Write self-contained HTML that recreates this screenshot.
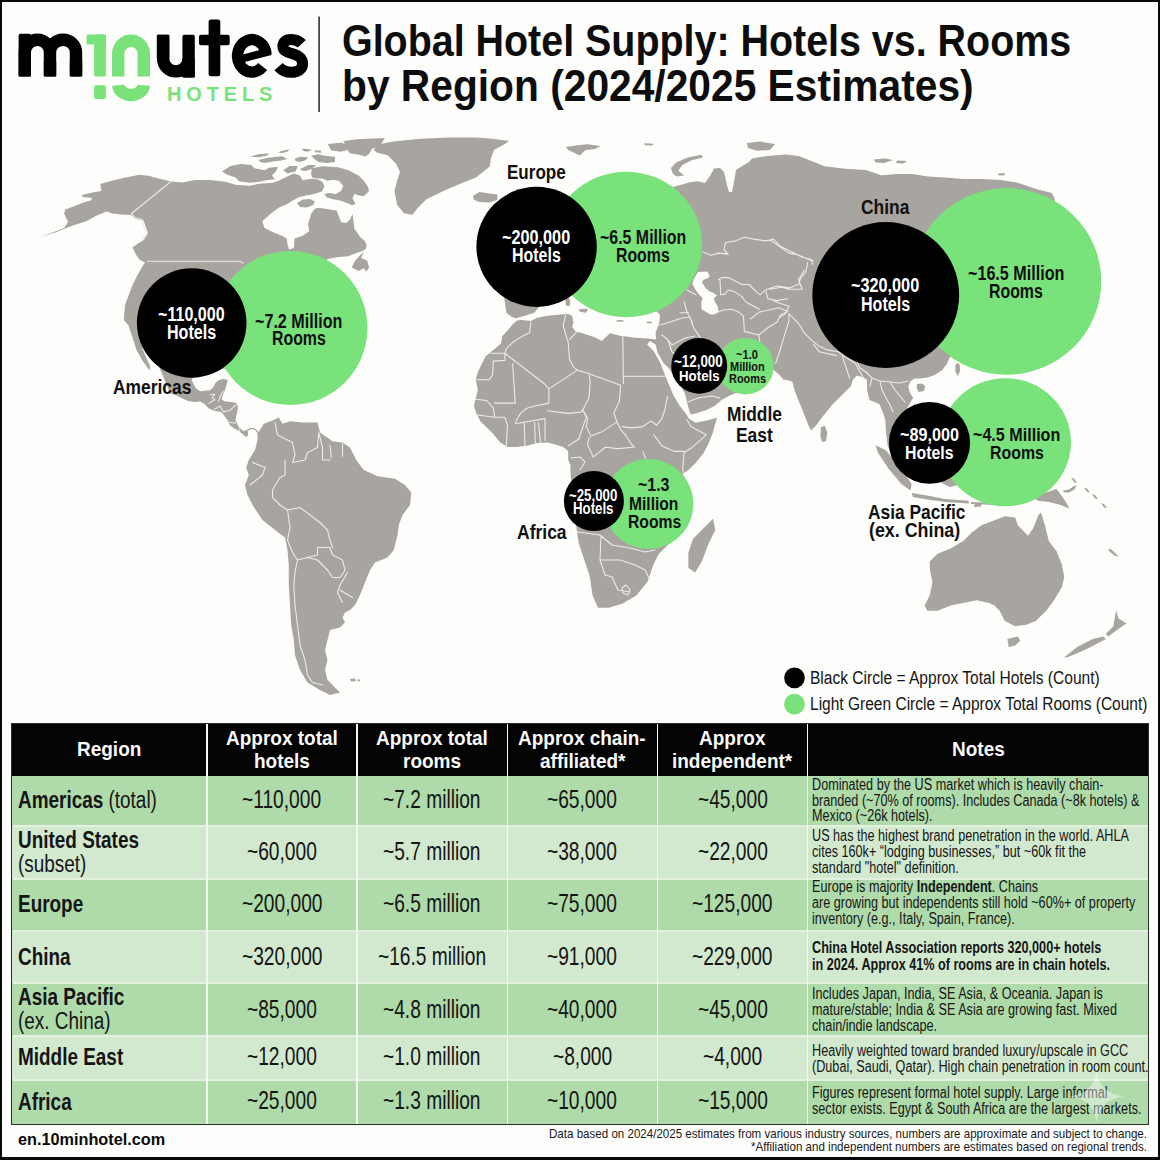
<!DOCTYPE html>
<html><head><meta charset="utf-8"><style>
*{margin:0;padding:0;box-sizing:border-box}
html,body{width:1160px;height:1160px;overflow:hidden;background:#fdfdfb}
body{position:relative;font-family:"Liberation Sans",sans-serif}
.abs{position:absolute;left:0;top:0}
.t{position:absolute;white-space:nowrap;line-height:1;transform-origin:0 0}
.frame{position:absolute;left:0;top:0;width:1160px;height:1160px;border-style:solid;border-color:#0a0a0a;border-width:2px 2.5px 3px 2.5px;pointer-events:none}
</style></head><body>
<svg class="abs" width="1160" height="130" viewBox="0 0 1160 130">
<g fill="none" stroke="#000" stroke-width="12.4">
<path d="M24.8 76.5 V52.5 A12.6 12.8 0 0 1 50 52.5 V76.5 M50 52.5 A13 12.8 0 0 1 76 52.5 V76.5"/>
<path d="M163.1 34.8 V58.5 A12.75 12.9 0 0 0 188.6 58.5 V77.6"/>
<path d="M266.1 54.2 A14.3 16.2 0 1 0 262.6 66.6" stroke-width="11.4"/>
<path d="M301.8 43.8 C298.8 40.6 295.2 39.4 291 39.4 C285.8 39.4 282.9 42.3 282.9 46.2 C282.9 50.6 287 52.1 292 53.6 C298 55.4 302.6 57.6 302.6 63.8 C302.6 69.4 297.5 72.3 291.2 72.3 C285.8 72.3 281.8 70.3 278.6 66.6" stroke-width="11"/>
</g>
<rect x="18.6" y="33.7" width="12.4" height="42.8" rx="2" fill="#000"/>
<rect x="43.8" y="60" width="12.4" height="16.5" rx="2" fill="#000"/>
<rect x="69.8" y="60" width="12.4" height="16.5" rx="2" fill="#000"/>
<rect x="156.9" y="34.8" width="12.4" height="26" rx="2" fill="#000"/>
<rect x="182.4" y="34.8" width="12.4" height="42.8" rx="2" fill="#000"/>
<rect x="208.6" y="19.4" width="11.7" height="56.8" rx="2.5" fill="#000"/>
<rect x="199" y="34.8" width="30.7" height="10.4" rx="2" fill="#000"/>
<path d="M240 59.2 L270.5 51.2" stroke="#000" stroke-width="7.8"/>
<g fill="#7ae27b">
<rect x="94.1" y="34.6" width="11.8" height="41.9" rx="1.5"/>
<rect x="86.6" y="34.6" width="19.3" height="9.9" rx="1.5"/>
<rect x="94.1" y="85.2" width="11.8" height="13.8" rx="2"/>
</g>
<g fill="none" stroke="#7ae27b" stroke-width="12.4">
<path d="M118.25 76.5 V52.7 A12.8 12.8 0 0 1 143.8 52.7 V76.5"/>
<path d="M118.25 85.2 A12.8 10.5 0 0 0 143.8 85.2"/>
</g>
<rect x="318.3" y="16.5" width="1.6" height="95.5" fill="#333"/>
</svg>
<svg class="abs" width="1160" height="1160" viewBox="0 0 1160 1160">
<path d="M39.3 237.4 L50.7 233.3 L64.1 228.1 L68.0 222.0 L64.1 213.6 L65.2 209.5 L73.4 206.4 L81.7 203.3 L91.0 200.2 L92.1 198.1 L82.8 197.1 L81.7 195.0 L95.2 191.9 L101.4 190.9 L100.3 184.1 L112.8 180.5 L123.1 177.9 L133.4 175.9 L139.7 174.8 L150.0 175.9 L152.5 177.0 L170.0 181.2 L182.5 182.5 L195.0 180.0 L210.0 179.9 L215.0 180.6 L225.3 181.7 L235.7 184.8 L249.1 185.8 L259.5 183.7 L272.9 182.7 L279.1 180.6 L287.4 176.5 L293.6 173.4 L299.8 175.4 L302.9 180.6 L306.0 179.5 L313.0 178.8 L318.0 179.5 L322.5 182.0 L324.5 186.5 L322.0 191.5 L314.0 194.0 L305.9 195.5 L298.6 197.2 L293.4 200.3 L286.2 204.5 L279.0 207.6 L270.7 213.8 L262.4 221.0 L264.3 227.8 L273.6 232.4 L281.4 235.5 L286.8 238.6 L287.6 244.8 L289.1 249.5 L293.8 247.9 L294.6 238.6 L303.1 235.5 L309.3 230.9 L307.9 224.1 L310.0 217.9 L311.0 213.8 L314.1 209.7 L316.5 208.0 L322.0 208.2 L330.0 209.5 L336.5 210.5 L338.8 216.0 L341.0 222.0 L346.0 223.0 L350.0 219.5 L352.5 214.0 L353.4 220.0 L354.3 228.6 L360.3 237.2 L364.7 240.7 L366.8 245.0 L365.5 249.3 L362.1 251.0 L355.2 253.6 L348.3 256.2 L338.8 257.1 L332.8 257.9 L326.7 259.2 L330.0 280.0 L320.0 320.0 L300.0 360.0 L280.0 385.0 L240.0 370.0 L215.0 368.0 L192.4 378.3 L191.6 380.0 L193.3 383.4 L195.9 388.6 L200.2 391.2 L204.5 390.8 L209.7 390.3 L213.1 387.8 L215.7 382.6 L219.1 380.0 L223.4 379.1 L227.8 380.0 L226.9 383.4 L225.2 389.5 L222.6 395.5 L221.7 399.8 L225.2 401.6 L232.1 402.0 L236.4 403.3 L238.1 407.6 L236.4 415.3 L235.5 420.5 L239.0 427.4 L243.3 430.9 L246.7 430.0 L250.2 427.8 L254.5 428.3 L258.0 431.0 L259.7 437.8 L257.9 436.0 L257.1 432.6 L255.3 430.0 L251.0 429.1 L247.6 430.9 L248.4 435.2 L245.9 436.9 L240.7 432.6 L235.5 429.1 L230.3 425.7 L227.8 420.5 L223.4 414.5 L220.9 411.9 L214.8 411.0 L208.8 408.4 L204.5 404.1 L200.2 401.6 L194.1 402.0 L187.2 400.7 L178.6 396.4 L170.0 392.9 L161.2 371.7 L158.0 365.0 L152.0 352.0 L146.0 345.0 L142.0 348.0 L146.0 357.0 L150.0 366.0 L149.8 370.8 L142.0 360.0 L136.5 350.0 L133.6 340.9 L128.4 325.3 L123.8 320.0 L125.0 305.0 L128.8 295.0 L132.5 285.0 L137.5 275.0 L142.5 266.2 L145.0 262.5 L140.0 260.0 L136.2 255.0 L132.5 247.5 L137.5 243.8 L143.8 240.0 L147.9 233.3 L145.9 227.1 L143.8 220.9 L135.5 218.8 L130.3 214.7 L123.1 214.7 L112.8 213.6 L106.5 211.6 L96.2 215.7 L86.9 220.9 L71.4 226.0 L55.9 232.2 Z M257.5 433.8 L263.8 423.8 L273.8 420.0 L278.8 417.5 L282.5 423.8 L290.0 421.2 L302.5 422.5 L317.5 422.5 L320.0 432.5 L332.5 441.2 L342.5 442.5 L350.0 447.5 L356.2 460.0 L363.8 470.0 L377.5 476.2 L395.0 478.8 L405.0 485.0 L411.2 492.5 L410.0 505.0 L402.5 515.0 L398.8 525.0 L397.5 535.0 L393.8 550.0 L387.5 557.5 L375.0 562.5 L370.0 570.0 L365.0 582.5 L360.0 595.0 L355.0 605.0 L350.0 610.0 L345.0 612.5 L342.5 617.5 L345.0 622.5 L340.0 627.5 L330.0 630.0 L327.5 640.0 L325.0 650.0 L327.5 660.0 L325.0 670.0 L327.5 680.0 L335.0 687.5 L340.0 692.5 L330.0 695.0 L320.0 690.0 L307.5 682.5 L300.0 670.0 L295.0 655.0 L293.8 640.0 L291.2 625.0 L290.0 605.0 L288.8 585.0 L288.8 565.0 L287.5 550.0 L285.0 537.5 L275.0 530.0 L262.5 520.0 L252.5 505.0 L247.5 495.0 L245.0 485.0 L248.8 475.0 L246.2 467.5 L248.8 460.0 L255.0 450.0 L257.5 440.0 Z M373.8 149.8 L379.3 144.3 L393.1 141.6 L420.7 138.8 L448.3 137.4 L475.9 137.4 L492.4 138.8 L509.0 141.0 L505.0 144.0 L494.0 150.0 L491.0 158.0 L489.7 166.4 L483.0 172.0 L475.9 177.4 L462.0 183.0 L442.8 191.2 L426.2 199.5 L417.9 207.8 L412.4 214.7 L404.1 213.3 L397.2 205.0 L394.5 191.2 L397.2 180.2 L400.0 171.9 L395.9 163.6 L387.6 155.3 L376.6 152.6 Z M472.8 196.0 L479.3 192.0 L489.6 193.4 L497.4 194.6 L497.4 199.8 L489.6 202.4 L479.3 201.9 L474.1 199.8 Z M517.5 320.2 L512.7 324.2 L507.5 330.7 L502.3 335.9 L501.0 343.6 L493.3 350.1 L485.5 356.5 L481.6 364.3 L477.8 372.0 L475.8 379.8 L477.8 390.1 L475.2 400.5 L473.9 405.7 L476.5 413.4 L480.3 421.2 L486.8 427.6 L493.3 434.1 L499.7 441.9 L507.5 447.0 L516.5 447.0 L526.9 445.7 L537.2 443.1 L547.6 442.5 L555.3 444.4 L563.1 447.0 L568.2 450.9 L568.2 460.0 L570.4 465.0 L570.4 471.1 L572.0 490.0 L575.0 515.0 L577.0 532.0 L578.7 542.9 L584.2 559.5 L589.7 576.0 L592.5 595.3 L598.0 607.8 L609.0 607.8 L622.8 603.6 L636.6 595.3 L647.7 581.5 L653.2 565.0 L658.7 553.9 L669.8 542.9 L685.0 520.0 L690.0 495.0 L683.1 473.4 L688.3 470.3 L695.5 463.1 L703.8 452.8 L709.0 442.4 L713.1 432.1 L715.2 423.8 L717.2 417.6 L714.1 418.6 L705.9 420.7 L695.5 422.8 L688.8 418.6 L685.9 413.8 L679.3 405.3 L673.6 395.8 L668.9 384.5 L664.1 373.1 L660.3 362.7 L653.7 351.3 L647.1 344.6 L650.0 341.0 L655.6 344.6 L657.5 352.2 L663.2 362.7 L669.8 369.3 L674.5 378.8 L681.2 386.4 L685.0 393.9 L686.9 401.5 L688.8 409.1 L690.7 414.5 L695.5 413.4 L705.9 410.3 L714.1 406.2 L719.3 402.1 L721.4 400.0 L728.6 395.9 L733.8 393.8 L737.9 392.8 L750.0 392.0 L765.0 385.0 L771.0 378.0 L773.0 369.5 L778.8 374.3 L783.3 379.5 L788.6 380.5 L792.4 381.7 L794.7 391.0 L799.4 402.7 L804.1 414.3 L808.7 426.0 L811.0 430.6 L815.7 426.0 L822.7 416.6 L832.0 405.0 L841.3 395.7 L850.6 386.4 L853.0 379.4 L857.0 375.5 L862.0 377.0 L866.9 379.4 L867.2 390.7 L869.7 400.3 L873.3 401.5 L879.3 404.0 L883.0 412.4 L885.3 419.7 L886.0 433.0 L887.9 446.9 L893.0 455.0 L905.0 470.0 L910.0 450.0 L905.0 430.0 L900.0 420.0 L913.1 397.9 L909.5 391.9 L908.3 385.9 L910.7 381.0 L914.3 378.6 L920.3 378.6 L927.6 377.4 L934.8 375.0 L942.1 370.2 L946.9 364.1 L949.3 358.1 L960.0 350.0 L1000.0 340.0 L1040.0 300.0 L1060.0 230.0 L1054.1 197.5 L1051.8 192.9 L1037.8 189.4 L1016.8 182.4 L1000.5 180.0 L981.9 178.9 L963.3 178.9 L948.6 177.8 L927.9 176.5 L912.4 174.0 L896.9 174.0 L881.4 175.3 L865.8 170.1 L845.2 168.8 L824.5 166.2 L811.5 161.0 L798.6 155.9 L785.7 154.6 L767.6 155.9 L760.0 157.0 L752.1 158.4 L748.6 162.2 L741.7 166.2 L736.0 170.0 L734.0 182.0 L732.0 192.0 L729.0 192.0 L727.0 185.0 L724.0 172.0 L720.0 168.0 L714.0 168.5 L710.0 176.0 L705.0 183.0 L697.4 181.2 L689.8 182.2 L680.3 185.0 L672.8 186.9 L660.0 182.0 L620.0 180.0 L600.0 192.0 L590.0 205.0 L575.0 210.0 L560.0 200.0 L540.0 190.0 L510.0 200.0 L490.0 230.0 L485.0 260.0 L495.0 285.0 L504.0 296.0 L504.7 301.3 L506.4 312.8 L511.0 316.5 L515.8 318.2 Z M250.2 156.8 L258.4 154.2 L269.3 153.2 L266.7 155.8 L258.4 157.3 Z M278.1 152.2 L283.3 150.6 L289.5 149.6 L287.4 151.7 L281.2 153.2 Z M258.4 159.9 L266.7 157.9 L277.1 156.8 L282.2 156.3 L287.4 158.9 L281.2 160.4 L272.9 161.5 L264.7 163.0 L260.5 162.0 Z M301.9 148.6 L308.1 149.1 L312.2 150.6 L306.0 151.7 L302.9 150.6 Z M314.3 150.6 L320.5 150.6 L321.5 152.7 L315.3 152.2 Z M294.7 158.9 L299.8 156.8 L308.1 157.3 L306.0 159.9 L299.8 162.0 L295.7 161.0 Z M311.2 155.8 L318.4 154.2 L324.7 155.8 L335.0 156.8 L335.0 162.0 L326.7 163.0 L318.4 162.0 L314.3 158.9 Z M222.2 171.3 L230.5 166.1 L240.9 164.1 L251.2 165.1 L254.3 168.2 L264.7 170.3 L268.8 167.7 L278.1 166.7 L276.0 171.3 L271.9 175.4 L275.0 179.2 L266.7 180.2 L259.5 181.8 L249.1 182.8 L238.8 181.2 L235.7 177.5 L226.4 174.4 Z M283.3 170.3 L289.5 166.1 L297.8 166.1 L295.7 171.3 L287.4 173.4 Z M299.8 169.2 L308.1 165.1 L316.4 165.1 L311.2 169.2 L304.0 171.3 Z M327.9 144.0 L341.9 142.4 L346.6 145.5 L346.6 150.2 L340.4 151.7 L331.0 150.2 Z M343.5 140.9 L357.4 139.3 L372.9 138.5 L385.0 138.0 L380.0 145.5 L372.0 149.0 L369.0 154.0 L365.2 156.4 L359.0 154.8 L349.7 153.3 L346.6 148.6 Z M311.0 173.4 L312.0 168.3 L322.4 166.2 L338.0 167.2 L348.3 170.3 L358.6 175.5 L363.8 180.7 L368.0 186.9 L369.0 191.0 L363.8 196.2 L358.6 195.2 L354.5 194.1 L352.4 198.3 L355.5 203.4 L352.4 205.5 L348.3 203.4 L343.1 201.4 L339.0 200.3 L332.8 199.3 L326.5 197.2 L324.5 194.1 L328.6 193.1 L335.9 194.1 L341.0 191.0 L343.1 185.9 L339.0 180.7 L332.8 179.7 L327.6 180.7 L322.4 178.6 L317.2 178.6 L312.1 177.6 Z M297.0 203.0 L303.0 199.5 L310.0 199.0 L315.0 201.5 L313.0 205.0 L307.0 207.6 L300.0 207.0 Z M363.8 251.5 L361.2 257.9 L367.2 260.5 L369.0 267.4 L366.4 271.7 L363.8 268.3 L358.6 270.9 L351.7 267.4 L355.2 260.5 Z M565.6 147.1 L577.9 145.2 L587.4 144.2 L600.7 146.1 L595.0 149.0 L585.5 149.9 L579.8 155.6 L574.1 152.8 L568.4 149.9 Z M644.3 143.3 L653.8 143.8 L652.0 145.5 L645.0 145.2 Z M672.8 173.6 L670.9 167.9 L676.5 162.2 L687.9 157.5 L701.2 154.7 L703.1 157.5 L691.7 160.3 L682.2 165.1 L678.4 170.8 L684.1 175.5 L676.5 176.5 Z M747.0 143.0 L760.0 141.6 L775.0 144.0 L770.0 150.0 L757.0 150.7 L748.0 148.0 Z M873.6 159.5 L885.0 158.4 L893.0 160.0 L884.0 163.0 L876.0 162.5 Z M897.0 160.5 L907.0 161.0 L903.0 163.6 L896.0 163.0 Z M998.0 173.5 L1005.0 173.0 L1004.0 175.4 L998.5 175.3 Z M350.0 679.0 L355.0 678.5 L356.0 681.0 L351.0 681.5 Z M357.0 679.5 L360.0 679.5 L360.0 681.2 L357.5 681.2 Z M713.0 518.8 L715.3 530.0 L708.6 543.4 L701.8 561.4 L695.1 572.6 L688.4 568.0 L688.4 552.4 L692.9 539.0 L701.8 530.0 L708.6 523.3 Z M821.0 427.0 L825.0 426.0 L827.3 433.0 L826.0 441.0 L822.0 442.0 L820.4 436.0 Z M917.0 384.0 L922.0 383.4 L925.2 386.0 L924.0 391.0 L918.5 391.9 L916.7 388.0 Z M956.5 363.0 L959.5 364.0 L960.2 370.0 L958.0 376.2 L955.5 372.0 L955.3 366.0 Z M875.5 445.2 L885.9 450.3 L898.8 465.9 L911.7 484.0 L910.4 490.4 L901.4 484.0 L888.4 468.4 L878.1 452.9 Z M911.7 493.0 L927.2 495.6 L945.3 499.0 L968.6 500.8 L968.6 503.4 L945.3 502.1 L927.2 499.5 L913.0 496.9 Z M971.0 502.0 L985.0 502.5 L998.0 503.5 L997.0 505.0 L984.0 504.5 L971.0 504.0 Z M935.0 470.0 L950.0 460.0 L965.0 470.0 L962.0 484.0 L950.0 487.0 L940.0 482.0 Z M1030.0 490.0 L1041.0 494.3 L1056.5 489.1 L1064.3 499.5 L1069.5 508.5 L1059.1 504.6 L1048.8 502.1 L1038.4 500.8 L1032.0 497.0 Z M1063.0 490.5 L1069.0 489.5 L1074.0 486.0 L1076.6 485.5 L1074.5 489.5 L1069.0 492.4 L1064.0 492.2 Z M1071.0 477.5 L1074.0 478.5 L1077.0 483.0 L1074.5 482.5 Z M1084.0 487.5 L1087.0 488.5 L1090.0 492.5 L1087.0 492.0 Z M1092.0 494.0 L1095.0 495.0 L1098.0 499.0 L1095.0 498.5 Z M1101.0 503.0 L1104.0 504.0 L1107.0 508.0 L1104.0 507.5 Z M975.0 503.0 L982.0 502.8 L981.0 506.5 L974.0 507.0 Z M929.8 561.5 L937.6 553.8 L950.5 548.6 L963.4 540.9 L971.2 533.1 L981.5 525.3 L994.5 520.2 L1004.8 516.3 L1015.2 517.6 L1017.7 525.3 L1028.1 535.7 L1033.3 527.9 L1038.4 515.0 L1041.0 512.4 L1044.9 525.3 L1048.8 540.9 L1056.5 551.2 L1061.7 564.1 L1064.3 577.1 L1061.7 587.4 L1054.0 600.3 L1046.2 610.7 L1035.8 621.0 L1025.5 624.9 L1015.2 626.2 L1004.8 621.0 L999.6 610.7 L994.5 605.5 L989.3 602.9 L976.4 600.3 L963.4 602.9 L950.5 605.5 L937.6 610.7 L927.2 610.7 L924.6 605.5 L929.8 595.2 L932.4 582.2 L929.8 569.3 Z M1007.4 639.1 L1017.7 636.5 L1020.3 640.4 L1015.2 645.6 L1008.7 646.9 Z M1116.0 610.7 L1118.6 618.4 L1126.4 623.6 L1118.6 628.8 L1108.3 636.5 L1105.7 634.0 L1113.4 626.2 L1114.7 618.4 Z M1103.1 636.5 L1106.0 639.0 L1092.7 646.0 L1082.4 651.0 L1066.9 657.5 L1064.3 657.2 L1077.2 646.9 L1092.7 639.1 Z M1108.0 548.6 L1112.0 550.0 L1118.6 556.4 L1115.0 556.0 L1109.0 551.0 Z" fill="#a8a49f"/>
<path d="M515.8 318.2 L524.0 316.0 L534.2 312.8 L540.0 306.0 L548.0 298.0 L560.0 292.0 L578.0 283.0 L600.0 285.0 L625.0 300.0 L645.0 308.0 L656.0 311.0 L660.0 314.8 L659.4 321.9 L658.4 325.7 L655.6 332.3 L656.2 339.5 L646.7 338.5 L633.4 337.6 L620.2 335.7 L610.0 333.3 L607.0 335.9 L601.9 341.0 L594.1 337.1 L586.3 334.6 L579.9 332.6 L576.0 332.0 L572.1 326.8 L573.4 322.9 L572.1 315.8 L568.2 313.9 L560.5 314.5 L547.6 315.8 L537.2 317.8 L530.8 321.0 L522.0 320.0 L517.5 320.2 Z M697.9 272.1 L707.6 271.4 L709.7 276.2 L707.6 278.3 L703.4 279.7 L702.1 282.4 L705.5 287.9 L709.7 291.4 L713.1 292.8 L717.2 295.5 L713.8 298.3 L715.2 302.4 L717.9 306.6 L718.6 312.1 L714.5 314.5 L710.3 314.5 L706.2 312.1 L701.4 309.3 L701.4 301.7 L702.8 298.3 L698.6 294.1 L695.2 289.3 L692.4 283.8 L693.8 279.0 Z" fill="#fdfdfb"/>
<path d="M565.3 298.5 L568.5 297.8 L570.3 301.0 L569.5 306.2 L566.0 305.5 Z M578.5 309.5 L584.0 308.7 L588.3 309.0 L586.0 312.8 L580.0 311.8 Z M616.0 320.4 L620.0 320.0 L624.3 320.6 L623.0 321.8 L617.0 321.8 Z M646.4 322.0 L650.0 321.5 L652.2 322.0 L651.0 323.4 L647.0 323.2 Z" fill="#a8a49f"/>
<path d="M147.5 261.3 L240.0 261.3 L243.0 263.0 M171.3 181.3 L131.3 213.8 L135.0 217.5 L142.5 220.0 L145.0 230.0 L147.5 232.5 L142.5 240.0 M210.5 394.7 L214.8 394.2 L212.2 398.1 L214.8 399.8 L208.8 403.3 M218.3 401.6 L220.9 394.7 L223.4 391.2 M214.8 409.3 L220.0 405.9 L223.4 411.9 M223.4 411.9 L230.3 410.2 L235.5 405.0 M229.5 422.2 L235.5 423.1 M239.0 429.1 L239.8 431.7 M530.8 322.3 L529.5 332.6 L523.0 335.9 L512.7 342.3 L506.2 348.8 L504.9 352.7 M490.7 353.3 L504.9 353.3 L504.9 360.4 L493.3 361.1 L492.6 374.6 L489.4 379.8 L475.2 379.8 M504.9 353.3 L545.0 384.3 L548.9 388.9 M512.7 363.6 L515.2 403.1 L494.6 403.1 M565.7 315.2 L563.1 325.5 L568.2 342.3 L569.5 359.1 L573.4 366.9 L577.3 370.1 M576.0 332.6 L569.5 339.7 M577.3 370.1 L548.9 388.9 M577.3 370.1 L587.6 373.3 L620.7 385.2 M588.9 373.3 L590.2 382.4 L589.0 397.6 L582.8 410.0 L587.6 418.3 L586.2 426.6 L590.3 434.8 M548.9 388.9 L548.9 403.1 L535.9 405.7 L526.9 408.2 L520.4 413.4 L515.2 422.5 M547.6 410.8 L557.9 412.1 L568.2 413.4 L581.2 412.1 L582.5 409.5 M582.5 409.5 L586.3 417.3 L578.6 439.3 L568.2 445.7 M475.2 399.2 L486.8 400.5 L493.3 408.2 L494.6 417.3 L475.2 414.7 M494.6 417.3 L504.9 417.3 L507.5 425.0 L506.2 447.0 M524.3 422.5 L524.9 445.7 M534.6 422.5 L535.3 443.1 M538.5 422.5 L540.5 443.1 M545.0 418.6 L545.0 440.6 M515.2 423.8 L545.0 418.6 M622.8 336.2 L623.4 383.8 M623.4 376.2 L664.8 376.2 M620.7 385.2 L619.3 401.7 L613.8 412.8 L616.6 421.0 L620.7 429.3 L626.2 436.2 L631.7 444.5 L634.5 447.2 M590.3 436.2 L601.4 432.1 L609.7 426.6 L616.6 422.4 M589.0 437.6 L587.6 444.5 L593.1 456.9 L605.5 447.2 L617.9 448.6 L633.1 447.2 M622.1 426.6 L631.7 427.9 L642.8 426.6 L651.0 421.0 L656.6 425.2 M667.6 396.2 L664.8 410.0 L662.0 418.3 L656.6 425.2 M686.9 419.7 L691.0 426.6 L706.2 434.8 L692.4 447.2 L684.1 452.8 M653.8 434.8 L662.0 445.9 L674.5 451.4 L684.1 451.4 M684.1 452.8 L682.8 467.9 L684.1 480.0 M642.8 451.4 L645.5 458.3 M571.0 458.0 L580.0 457.0 L585.0 462.0 L580.0 470.0 M577.0 532.0 L600.0 535.0 L612.0 545.0 M601.0 536.0 L600.0 560.0 L605.0 575.0 L612.0 577.0 M612.0 545.0 L630.0 548.0 L645.0 552.0 L655.0 550.0 M600.0 560.0 L620.0 560.0 L635.0 565.0 L645.0 570.0 L650.0 580.0 M612.0 577.0 L618.0 590.0 L630.0 592.0 M626.0 585.0 L630.0 590.0 L628.0 595.0 L623.0 593.0 L622.0 588.0 L626.0 585.0 M275.0 422.5 L277.5 435.0 L292.5 442.5 L295.0 455.0 L292.5 462.5 L305.0 460.0 L307.5 452.5 L317.5 447.5 L318.8 432.5 M318.8 432.5 L322.5 447.5 L322.5 460.0 L330.0 460.0 M330.0 445.0 L331.3 457.5 M342.5 443.8 L342.5 456.3 M252.5 462.5 L265.0 467.5 L262.5 475.0 L250.0 485.0 M285.0 460.0 L285.0 475.0 L280.0 477.5 L272.5 490.0 L272.5 497.5 L280.0 505.0 L287.5 510.0 M287.5 510.0 L300.0 507.5 L320.0 522.5 L327.5 530.0 L330.0 540.0 L332.5 547.5 M287.5 510.0 L290.0 527.5 L287.5 540.0 L292.5 552.5 L297.5 560.0 M297.5 560.0 L307.5 557.5 L317.5 555.0 L317.5 547.5 L330.0 547.5 L332.5 555.0 L342.5 560.0 L345.0 570.0 L340.0 577.5 L332.5 577.5 L327.5 570.0 L317.5 560.0 L307.5 557.5 M297.5 560.0 L295.0 572.5 L293.8 585.0 L295.0 605.0 L297.5 625.0 L300.0 645.0 L305.0 660.0 L307.5 675.0 L312.5 682.5 L322.5 685.0 M347.5 572.5 L340.0 585.0 L337.5 592.5 L342.5 602.5 M340.0 590.0 L352.5 597.5 M702.8 252.1 L711.0 255.2 L718.6 253.1 L728.3 254.1 L724.1 250.0 L725.3 242.7 L735.3 240.9 L744.3 237.2 L753.4 239.1 L766.0 240.9 L773.3 239.1 L780.5 246.3 L791.4 251.7 L802.2 257.2 L809.5 259.0 L813.1 260.8 M718.6 279.7 L721.4 277.6 L728.3 277.6 L735.2 281.0 L742.1 284.5 L749.0 284.5 L755.9 291.4 L760.0 294.8 L766.0 289.7 L776.9 286.1 L789.6 287.9 L798.6 284.3 L800.4 278.9 L805.9 271.6 L807.7 262.6 M720.0 279.7 L720.7 294.8 L724.8 294.1 L728.3 290.0 L733.8 291.4 L742.1 296.9 L745.5 301.7 L759.3 309.3 M718.6 312.1 L722.8 310.0 L731.7 309.3 L738.6 312.1 L743.4 316.2 L744.1 325.9 M750.3 319.0 L759.3 312.1 L769.7 309.7 L778.7 307.8 L787.8 311.5 L780.5 315.1 L776.9 322.3 L767.8 327.8 L758.8 335.0 L744.3 331.4 L744.1 325.9 M686.9 290.0 L695.9 294.8 M684.1 301.7 L686.9 312.1 L692.4 322.4 M680.0 312.8 L688.3 312.8 M789.0 313.9 L789.0 321.4 L785.2 332.8 L779.5 351.8 L775.7 363.2 M789.0 313.9 L798.5 323.3 L804.2 332.8 L811.7 340.4 L819.3 346.1 L826.9 349.9 L838.3 351.8 L845.9 357.5 L855.4 363.2 M770.0 239.8 L789.0 253.1 L798.5 255.0 L811.7 260.7 L812.7 264.5 M804.2 270.2 L798.5 279.7 L802.3 289.2 L789.0 289.2 L781.4 287.3 L770.0 289.2 M770.0 298.7 L777.6 302.5 L789.0 306.3 L785.2 313.9 L779.5 317.6 M813.6 344.2 L819.3 351.8 L836.4 355.6 M842.1 355.6 L845.9 367.0 L849.7 378.4 M855.4 363.2 L859.2 370.8 L864.9 380.3 M690.0 316.9 L693.6 327.8 L700.9 338.6 M758.8 335.0 L760.6 347.7 L766.0 356.7 L762.4 367.6 M766.0 291.5 L767.8 298.8 L776.9 300.6 L787.8 298.8 M662.0 335.0 L668.0 340.0 L672.0 345.0 M672.0 345.0 L685.0 338.0 L695.0 336.0 M660.0 325.0 L670.0 322.0 L682.0 318.0 L690.0 317.0 M668.0 340.0 L672.0 352.0 L680.0 358.0 L690.0 358.0 L700.0 355.0 M688.0 402.0 L698.0 398.0 L712.0 396.0 L720.0 398.0 M856.5 360.3 L860.0 368.0 L866.0 372.0 L872.0 378.0 L870.0 386.0 M872.0 378.0 L880.0 381.0 L890.0 382.0 L900.0 383.0 L908.0 381.0 M880.0 381.0 L882.0 390.0 L886.0 398.0 L890.0 405.0 L893.0 412.0 M890.0 382.0 L895.0 390.0 L900.0 396.0 L905.0 402.0" fill="none" stroke="#ecebe6" stroke-width="1.1" stroke-linejoin="round" stroke-linecap="round"/>
<ellipse cx="290.5" cy="328" rx="77" ry="77" fill="#7ae27b"/><ellipse cx="626.2" cy="244.5" rx="75.9" ry="72.75" fill="#7ae27b"/><ellipse cx="1006.5" cy="281.4" rx="94.8" ry="93.3" fill="#7ae27b"/><ellipse cx="745.4" cy="366.2" rx="28.3" ry="28.3" fill="#7ae27b"/><ellipse cx="1005.4" cy="442.25" rx="65.6" ry="64" fill="#7ae27b"/><ellipse cx="648.4" cy="504" rx="45" ry="45" fill="#7ae27b"/><ellipse cx="191.7" cy="323" rx="54.8" ry="54.7" fill="#000"/><ellipse cx="536.6" cy="246.8" rx="60.2" ry="60.1" fill="#000"/><ellipse cx="885.75" cy="295" rx="73.4" ry="72.9" fill="#000"/><ellipse cx="699.2" cy="365.9" rx="28" ry="27.8" fill="#000"/><ellipse cx="929.5" cy="442.9" rx="40.6" ry="40.9" fill="#000"/><ellipse cx="593.9" cy="501" rx="30" ry="30" fill="#000"/>
<circle cx="794.5" cy="677.9" r="10.3" fill="#000"/><circle cx="794.5" cy="704.2" r="10.4" fill="#7ae27b"/>
</svg>
<div style="position:absolute;left:12px;top:723px;width:1136.5px;height:53px;background:#040404"></div><div style="position:absolute;left:12px;top:776px;width:1136.5px;height:50px;background:#afdaa9"></div><div style="position:absolute;left:12px;top:826px;width:1136.5px;height:53px;background:#d2e9cf"></div><div style="position:absolute;left:12px;top:879px;width:1136.5px;height:52px;background:#afdaa9"></div><div style="position:absolute;left:12px;top:931px;width:1136.5px;height:52px;background:#d2e9cf"></div><div style="position:absolute;left:12px;top:983px;width:1136.5px;height:53px;background:#afdaa9"></div><div style="position:absolute;left:12px;top:1036px;width:1136.5px;height:44px;background:#d2e9cf"></div><div style="position:absolute;left:12px;top:1080px;width:1136.5px;height:43.799999999999955px;background:#afdaa9"></div><div style="position:absolute;left:13px;top:825.2px;width:1134.5px;height:1.4px;background:#e4f1e1"></div><div style="position:absolute;left:13px;top:878.2px;width:1134.5px;height:1.4px;background:#e4f1e1"></div><div style="position:absolute;left:13px;top:930.2px;width:1134.5px;height:1.4px;background:#e4f1e1"></div><div style="position:absolute;left:13px;top:982.2px;width:1134.5px;height:1.4px;background:#e4f1e1"></div><div style="position:absolute;left:13px;top:1035.2px;width:1134.5px;height:1.4px;background:#e4f1e1"></div><div style="position:absolute;left:13px;top:1079.2px;width:1134.5px;height:1.4px;background:#e4f1e1"></div><div style="position:absolute;left:206.2px;top:723px;width:1.6px;height:400.79999999999995px;background:#f4f8f2"></div><div style="position:absolute;left:356.2px;top:723px;width:1.6px;height:400.79999999999995px;background:#f4f8f2"></div><div style="position:absolute;left:506.7px;top:723px;width:1.6px;height:400.79999999999995px;background:#f4f8f2"></div><div style="position:absolute;left:656.7px;top:723px;width:1.6px;height:400.79999999999995px;background:#f4f8f2"></div><div style="position:absolute;left:806.7px;top:723px;width:1.6px;height:400.79999999999995px;background:#f4f8f2"></div><div style="position:absolute;left:11.3px;top:722.5px;width:1138.0px;height:402.0999999999999px;border:1.5px solid #2a2a2a"></div>
<div class="t" style="left:342.40px;top:19.33px;font-size:44.5px;font-weight:bold;color:#0d0d0d;letter-spacing:0px;transform:scaleX(0.8856)">Global Hotel Supply: Hotels vs. Rooms</div>
<div class="t" style="left:342.40px;top:64.13px;font-size:44.5px;font-weight:bold;color:#0d0d0d;letter-spacing:0px;transform:scaleX(0.9153)">by Region (2024/2025 Estimates)</div>
<div class="t" style="left:166.60px;top:84.07px;font-size:20px;font-weight:bold;color:#7ae27b;letter-spacing:4.8px;transform:scaleX(1.0025)">HOTELS</div>
<div class="t" style="left:112.60px;top:375.92px;font-size:21px;font-weight:bold;color:#111;letter-spacing:0px;transform:scaleX(0.8280)">Americas</div>
<div class="t" style="left:507.20px;top:161.02px;font-size:21px;font-weight:bold;color:#111;letter-spacing:0px;transform:scaleX(0.8114)">Europe</div>
<div class="t" style="left:861.10px;top:196.02px;font-size:21px;font-weight:bold;color:#111;letter-spacing:0px;transform:scaleX(0.8296)">China</div>
<div class="t" style="left:727.00px;top:403.22px;font-size:21px;font-weight:bold;color:#111;letter-spacing:0px;transform:scaleX(0.8256)">Middle</div>
<div class="t" style="left:736.00px;top:423.82px;font-size:21px;font-weight:bold;color:#111;letter-spacing:0px;transform:scaleX(0.8296)">East</div>
<div class="t" style="left:867.70px;top:501.42px;font-size:21px;font-weight:bold;color:#111;letter-spacing:0px;transform:scaleX(0.8261)">Asia Pacific</div>
<div class="t" style="left:868.70px;top:519.22px;font-size:21px;font-weight:bold;color:#111;letter-spacing:0px;transform:scaleX(0.8495)">(ex. China)</div>
<div class="t" style="left:517.40px;top:521.02px;font-size:21px;font-weight:bold;color:#111;letter-spacing:0px;transform:scaleX(0.8332)">Africa</div>
<div class="t" style="left:158.00px;top:304.69px;font-size:19.5px;font-weight:bold;color:#fff;letter-spacing:0px;transform:scaleX(0.8254)">~110,000</div>
<div class="t" style="left:166.60px;top:322.79px;font-size:19.5px;font-weight:bold;color:#fff;letter-spacing:0px;transform:scaleX(0.8254)">Hotels</div>
<div class="t" style="left:255.40px;top:311.59px;font-size:19.5px;font-weight:bold;color:#111;letter-spacing:0px;transform:scaleX(0.8272)">~7.2 Million</div>
<div class="t" style="left:271.80px;top:328.79px;font-size:19.5px;font-weight:bold;color:#111;letter-spacing:0px;transform:scaleX(0.8140)">Rooms</div>
<div class="t" style="left:502.10px;top:228.19px;font-size:19.5px;font-weight:bold;color:#fff;letter-spacing:0px;transform:scaleX(0.8328)">~200,000</div>
<div class="t" style="left:512.00px;top:245.99px;font-size:19.5px;font-weight:bold;color:#fff;letter-spacing:0px;transform:scaleX(0.8187)">Hotels</div>
<div class="t" style="left:599.80px;top:228.19px;font-size:19.5px;font-weight:bold;color:#111;letter-spacing:0px;transform:scaleX(0.8168)">~6.5 Million</div>
<div class="t" style="left:616.10px;top:245.99px;font-size:19.5px;font-weight:bold;color:#111;letter-spacing:0px;transform:scaleX(0.8125)">Rooms</div>
<div class="t" style="left:851.30px;top:276.49px;font-size:19.5px;font-weight:bold;color:#fff;letter-spacing:0px;transform:scaleX(0.8328)">~320,000</div>
<div class="t" style="left:861.20px;top:295.29px;font-size:19.5px;font-weight:bold;color:#fff;letter-spacing:0px;transform:scaleX(0.8254)">Hotels</div>
<div class="t" style="left:967.90px;top:264.09px;font-size:19.5px;font-weight:bold;color:#111;letter-spacing:0px;transform:scaleX(0.8275)">~16.5 Million</div>
<div class="t" style="left:989.10px;top:282.29px;font-size:19.5px;font-weight:bold;color:#111;letter-spacing:0px;transform:scaleX(0.8140)">Rooms</div>
<div class="t" style="left:674.40px;top:353.63px;font-size:15.8px;font-weight:bold;color:#fff;letter-spacing:0px;transform:scaleX(0.8463)">~12,000</div>
<div class="t" style="left:678.90px;top:367.88px;font-size:15.5px;font-weight:bold;color:#fff;letter-spacing:0px;transform:scaleX(0.8570)">Hotels</div>
<div class="t" style="left:736.40px;top:347.80px;font-size:13px;font-weight:bold;color:#111;letter-spacing:0px;transform:scaleX(0.8570)">~1.0</div>
<div class="t" style="left:730.00px;top:360.92px;font-size:12.5px;font-weight:bold;color:#111;letter-spacing:0px;transform:scaleX(0.8767)">Million</div>
<div class="t" style="left:729.10px;top:373.12px;font-size:12.5px;font-weight:bold;color:#111;letter-spacing:0px;transform:scaleX(0.8732)">Rooms</div>
<div class="t" style="left:900.00px;top:425.02px;font-size:19px;font-weight:bold;color:#fff;letter-spacing:0px;transform:scaleX(0.8509)">~89,000</div>
<div class="t" style="left:904.90px;top:443.12px;font-size:19px;font-weight:bold;color:#fff;letter-spacing:0px;transform:scaleX(0.8351)">Hotels</div>
<div class="t" style="left:973.20px;top:425.02px;font-size:19px;font-weight:bold;color:#111;letter-spacing:0px;transform:scaleX(0.8480)">~4.5 Million</div>
<div class="t" style="left:990.30px;top:443.12px;font-size:19px;font-weight:bold;color:#111;letter-spacing:0px;transform:scaleX(0.8369)">Rooms</div>
<div class="t" style="left:568.90px;top:486.63px;font-size:16.5px;font-weight:bold;color:#fff;letter-spacing:0px;transform:scaleX(0.8035)">~25,000</div>
<div class="t" style="left:572.80px;top:500.33px;font-size:16.5px;font-weight:bold;color:#fff;letter-spacing:0px;transform:scaleX(0.8030)">Hotels</div>
<div class="t" style="left:638.40px;top:476.24px;font-size:18.5px;font-weight:bold;color:#111;letter-spacing:0px;transform:scaleX(0.8623)">~1.3</div>
<div class="t" style="left:629.40px;top:495.34px;font-size:18.5px;font-weight:bold;color:#111;letter-spacing:0px;transform:scaleX(0.8433)">Million</div>
<div class="t" style="left:627.80px;top:513.24px;font-size:18.5px;font-weight:bold;color:#111;letter-spacing:0px;transform:scaleX(0.8500)">Rooms</div>
<div class="t" style="left:809.70px;top:667.95px;font-size:19.2px;font-weight:normal;color:#151515;letter-spacing:0px;transform:scaleX(0.8105)">Black Circle = Approx Total Hotels (Count)</div>
<div class="t" style="left:809.70px;top:693.85px;font-size:19.2px;font-weight:normal;color:#151515;letter-spacing:0px;transform:scaleX(0.8090)">Light Green Circle = Approx Total Rooms (Count)</div>
<div class="t" style="left:77.33px;top:738.42px;font-size:21px;font-weight:bold;color:#fafafa;letter-spacing:0px;transform:scaleX(0.9040)">Region</div>
<div class="t" style="left:226.10px;top:727.02px;font-size:21px;font-weight:bold;color:#fafafa;letter-spacing:0px;transform:scaleX(0.9040)">Approx total</div>
<div class="t" style="left:254.05px;top:749.82px;font-size:21px;font-weight:bold;color:#fafafa;letter-spacing:0px;transform:scaleX(0.9040)">hotels</div>
<div class="t" style="left:376.10px;top:727.02px;font-size:21px;font-weight:bold;color:#fafafa;letter-spacing:0px;transform:scaleX(0.9040)">Approx total</div>
<div class="t" style="left:402.99px;top:749.82px;font-size:21px;font-weight:bold;color:#fafafa;letter-spacing:0px;transform:scaleX(0.9040)">rooms</div>
<div class="t" style="left:518.48px;top:727.02px;font-size:21px;font-weight:bold;color:#fafafa;letter-spacing:0px;transform:scaleX(0.9040)">Approx chain-</div>
<div class="t" style="left:539.57px;top:749.82px;font-size:21px;font-weight:bold;color:#fafafa;letter-spacing:0px;transform:scaleX(0.9040)">affiliated*</div>
<div class="t" style="left:699.28px;top:727.02px;font-size:21px;font-weight:bold;color:#fafafa;letter-spacing:0px;transform:scaleX(0.9040)">Approx</div>
<div class="t" style="left:672.38px;top:749.82px;font-size:21px;font-weight:bold;color:#fafafa;letter-spacing:0px;transform:scaleX(0.9040)">independent*</div>
<div class="t" style="left:951.62px;top:738.22px;font-size:21px;font-weight:bold;color:#fafafa;letter-spacing:0px;transform:scaleX(0.9040)">Notes</div>
<div class="t" style="left:242.45px;top:786.91px;font-size:25.5px;font-weight:normal;color:#151515;letter-spacing:0px;transform:scaleX(0.7520)">~110,000</div>
<div class="t" style="left:383.23px;top:786.91px;font-size:25.5px;font-weight:normal;color:#151515;letter-spacing:0px;transform:scaleX(0.7520)">~7.2 million</div>
<div class="t" style="left:547.37px;top:786.91px;font-size:25.5px;font-weight:normal;color:#151515;letter-spacing:0px;transform:scaleX(0.7520)">~65,000</div>
<div class="t" style="left:697.57px;top:786.91px;font-size:25.5px;font-weight:normal;color:#151515;letter-spacing:0px;transform:scaleX(0.7520)">~45,000</div>
<div class="t" style="left:247.07px;top:838.71px;font-size:25.5px;font-weight:normal;color:#151515;letter-spacing:0px;transform:scaleX(0.7520)">~60,000</div>
<div class="t" style="left:383.23px;top:838.71px;font-size:25.5px;font-weight:normal;color:#151515;letter-spacing:0px;transform:scaleX(0.7520)">~5.7 million</div>
<div class="t" style="left:547.37px;top:838.71px;font-size:25.5px;font-weight:normal;color:#151515;letter-spacing:0px;transform:scaleX(0.7520)">~38,000</div>
<div class="t" style="left:697.57px;top:838.71px;font-size:25.5px;font-weight:normal;color:#151515;letter-spacing:0px;transform:scaleX(0.7520)">~22,000</div>
<div class="t" style="left:241.74px;top:891.01px;font-size:25.5px;font-weight:normal;color:#151515;letter-spacing:0px;transform:scaleX(0.7520)">~200,000</div>
<div class="t" style="left:383.23px;top:891.01px;font-size:25.5px;font-weight:normal;color:#151515;letter-spacing:0px;transform:scaleX(0.7520)">~6.5 million</div>
<div class="t" style="left:547.37px;top:891.01px;font-size:25.5px;font-weight:normal;color:#151515;letter-spacing:0px;transform:scaleX(0.7520)">~75,000</div>
<div class="t" style="left:692.24px;top:891.01px;font-size:25.5px;font-weight:normal;color:#151515;letter-spacing:0px;transform:scaleX(0.7520)">~125,000</div>
<div class="t" style="left:241.74px;top:943.61px;font-size:25.5px;font-weight:normal;color:#151515;letter-spacing:0px;transform:scaleX(0.7520)">~320,000</div>
<div class="t" style="left:377.90px;top:943.61px;font-size:25.5px;font-weight:normal;color:#151515;letter-spacing:0px;transform:scaleX(0.7520)">~16.5 million</div>
<div class="t" style="left:547.37px;top:943.61px;font-size:25.5px;font-weight:normal;color:#151515;letter-spacing:0px;transform:scaleX(0.7520)">~91,000</div>
<div class="t" style="left:692.24px;top:943.61px;font-size:25.5px;font-weight:normal;color:#151515;letter-spacing:0px;transform:scaleX(0.7520)">~229,000</div>
<div class="t" style="left:247.07px;top:996.61px;font-size:25.5px;font-weight:normal;color:#151515;letter-spacing:0px;transform:scaleX(0.7520)">~85,000</div>
<div class="t" style="left:383.23px;top:996.61px;font-size:25.5px;font-weight:normal;color:#151515;letter-spacing:0px;transform:scaleX(0.7520)">~4.8 million</div>
<div class="t" style="left:547.37px;top:996.61px;font-size:25.5px;font-weight:normal;color:#151515;letter-spacing:0px;transform:scaleX(0.7520)">~40,000</div>
<div class="t" style="left:697.57px;top:996.61px;font-size:25.5px;font-weight:normal;color:#151515;letter-spacing:0px;transform:scaleX(0.7520)">~45,000</div>
<div class="t" style="left:247.07px;top:1043.91px;font-size:25.5px;font-weight:normal;color:#151515;letter-spacing:0px;transform:scaleX(0.7520)">~12,000</div>
<div class="t" style="left:383.23px;top:1043.91px;font-size:25.5px;font-weight:normal;color:#151515;letter-spacing:0px;transform:scaleX(0.7520)">~1.0 million</div>
<div class="t" style="left:552.70px;top:1043.91px;font-size:25.5px;font-weight:normal;color:#151515;letter-spacing:0px;transform:scaleX(0.7520)">~8,000</div>
<div class="t" style="left:702.90px;top:1043.91px;font-size:25.5px;font-weight:normal;color:#151515;letter-spacing:0px;transform:scaleX(0.7520)">~4,000</div>
<div class="t" style="left:247.07px;top:1088.41px;font-size:25.5px;font-weight:normal;color:#151515;letter-spacing:0px;transform:scaleX(0.7520)">~25,000</div>
<div class="t" style="left:383.23px;top:1088.41px;font-size:25.5px;font-weight:normal;color:#151515;letter-spacing:0px;transform:scaleX(0.7520)">~1.3 million</div>
<div class="t" style="left:547.37px;top:1088.41px;font-size:25.5px;font-weight:normal;color:#151515;letter-spacing:0px;transform:scaleX(0.7520)">~10,000</div>
<div class="t" style="left:697.57px;top:1088.41px;font-size:25.5px;font-weight:normal;color:#151515;letter-spacing:0px;transform:scaleX(0.7520)">~15,000</div>
<div class="t" style="left:18.30px;top:788.63px;font-size:23px;font-weight:bold;color:#151515;letter-spacing:0px;transform:scaleX(0.8230)">Americas<span style="font-weight:normal"> (total)</span></div>
<div class="t" style="left:18.30px;top:828.83px;font-size:23px;font-weight:bold;color:#151515;letter-spacing:0px;transform:scaleX(0.8230)">United States</div>
<div class="t" style="left:18.30px;top:852.93px;font-size:23px;font-weight:normal;color:#151515;letter-spacing:0px;transform:scaleX(0.8230)">(subset)</div>
<div class="t" style="left:18.30px;top:893.33px;font-size:23px;font-weight:bold;color:#151515;letter-spacing:0px;transform:scaleX(0.8230)">Europe</div>
<div class="t" style="left:18.30px;top:945.83px;font-size:23px;font-weight:bold;color:#151515;letter-spacing:0px;transform:scaleX(0.8230)">China</div>
<div class="t" style="left:18.30px;top:985.83px;font-size:23px;font-weight:bold;color:#151515;letter-spacing:0px;transform:scaleX(0.8230)">Asia Pacific</div>
<div class="t" style="left:18.30px;top:1009.73px;font-size:23px;font-weight:normal;color:#151515;letter-spacing:0px;transform:scaleX(0.8230)">(ex. China)</div>
<div class="t" style="left:18.30px;top:1046.03px;font-size:23px;font-weight:bold;color:#151515;letter-spacing:0px;transform:scaleX(0.8230)">Middle East</div>
<div class="t" style="left:18.30px;top:1090.53px;font-size:23px;font-weight:bold;color:#151515;letter-spacing:0px;transform:scaleX(0.8230)">Africa</div>
<div class="t" style="left:812.20px;top:777.26px;font-size:16px;font-weight:normal;color:#151515;letter-spacing:0px;transform:scaleX(0.7900)">Dominated by the US market which is heavily chain-</div>
<div class="t" style="left:812.20px;top:792.76px;font-size:16px;font-weight:normal;color:#151515;letter-spacing:0px;transform:scaleX(0.7900)">branded (~70% of rooms). Includes Canada (~8k hotels) &amp;</div>
<div class="t" style="left:812.20px;top:808.26px;font-size:16px;font-weight:normal;color:#151515;letter-spacing:0px;transform:scaleX(0.7900)">Mexico (~26k hotels).</div>
<div class="t" style="left:812.20px;top:827.86px;font-size:16px;font-weight:normal;color:#151515;letter-spacing:0px;transform:scaleX(0.7900)">US has the highest brand penetration in the world. AHLA</div>
<div class="t" style="left:812.20px;top:843.76px;font-size:16px;font-weight:normal;color:#151515;letter-spacing:0px;transform:scaleX(0.7900)">cites 160k+ “lodging businesses,” but ~60k fit the</div>
<div class="t" style="left:812.20px;top:859.66px;font-size:16px;font-weight:normal;color:#151515;letter-spacing:0px;transform:scaleX(0.7900)">standard "hotel" definition.</div>
<div class="t" style="left:812.20px;top:879.06px;font-size:16px;font-weight:normal;color:#151515;letter-spacing:0px;transform:scaleX(0.7900)">Europe is majority <b>Independent</b>. Chains</div>
<div class="t" style="left:812.20px;top:895.06px;font-size:16px;font-weight:normal;color:#151515;letter-spacing:0px;transform:scaleX(0.7900)">are growing but independents still hold ~60%+ of property</div>
<div class="t" style="left:812.20px;top:911.26px;font-size:16px;font-weight:normal;color:#151515;letter-spacing:0px;transform:scaleX(0.7900)">inventory (e.g., Italy, Spain, France).</div>
<div class="t" style="left:812.20px;top:939.76px;font-size:16px;font-weight:normal;color:#151515;letter-spacing:0px;transform:scaleX(0.7900)"><b>China Hotel Association reports 320,000+ hotels</b></div>
<div class="t" style="left:812.20px;top:956.86px;font-size:16px;font-weight:normal;color:#151515;letter-spacing:0px;transform:scaleX(0.7900)"><b>in 2024. Approx 41% of rooms are in chain hotels.</b></div>
<div class="t" style="left:812.20px;top:986.46px;font-size:16px;font-weight:normal;color:#151515;letter-spacing:0px;transform:scaleX(0.7900)">Includes Japan, India, SE Asia, &amp; Oceania. Japan is</div>
<div class="t" style="left:812.20px;top:1002.26px;font-size:16px;font-weight:normal;color:#151515;letter-spacing:0px;transform:scaleX(0.7900)">mature/stable; India &amp; SE Asia are growing fast. Mixed</div>
<div class="t" style="left:812.20px;top:1017.96px;font-size:16px;font-weight:normal;color:#151515;letter-spacing:0px;transform:scaleX(0.7900)">chain/indie landscape.</div>
<div class="t" style="left:812.20px;top:1042.66px;font-size:16px;font-weight:normal;color:#151515;letter-spacing:0px;transform:scaleX(0.7900)">Heavily weighted toward branded luxury/upscale in GCC</div>
<div class="t" style="left:812.20px;top:1058.96px;font-size:16px;font-weight:normal;color:#151515;letter-spacing:0px;transform:scaleX(0.7900)">(Dubai, Saudi, Qatar). High chain penetration in room count.</div>
<div class="t" style="left:812.20px;top:1085.06px;font-size:16px;font-weight:normal;color:#151515;letter-spacing:0px;transform:scaleX(0.7900)">Figures represent formal hotel supply. Large informal</div>
<div class="t" style="left:812.20px;top:1101.46px;font-size:16px;font-weight:normal;color:#151515;letter-spacing:0px;transform:scaleX(0.7900)">sector exists. Egypt &amp; South Africa are the largest markets.</div>
<div class="t" style="left:18.40px;top:1130.83px;font-size:16.5px;font-weight:bold;color:#0a0a0a;letter-spacing:0px;transform:scaleX(0.9849)">en.10minhotel.com</div>
<div class="t" style="left:548.90px;top:1128.16px;font-size:12.8px;font-weight:normal;color:#1a1a1a;letter-spacing:0px;transform:scaleX(0.9039)">Data based on 2024/2025 estimates from various industry sources, numbers are approximate and subject to change.</div>
<div class="t" style="left:750.90px;top:1141.46px;font-size:12.8px;font-weight:normal;color:#1a1a1a;letter-spacing:0px;transform:scaleX(0.9056)">*Affiliation and independent numbers are estimates based on regional trends.</div>
<svg class="abs" width="1160" height="1160" viewBox="0 0 1160 1160" style="pointer-events:none"><path d="M1096.6 1070.5 Q1099.6 1093.4 1123.5 1096.4 Q1099.6 1099.4 1096.6 1122.8 Q1093.6 1099.4 1069.7 1096.4 Q1093.6 1093.4 1096.6 1070.5 Z" fill="#ffffff" fill-opacity="0.42"/></svg>
<div class="frame"></div>
</body></html>
